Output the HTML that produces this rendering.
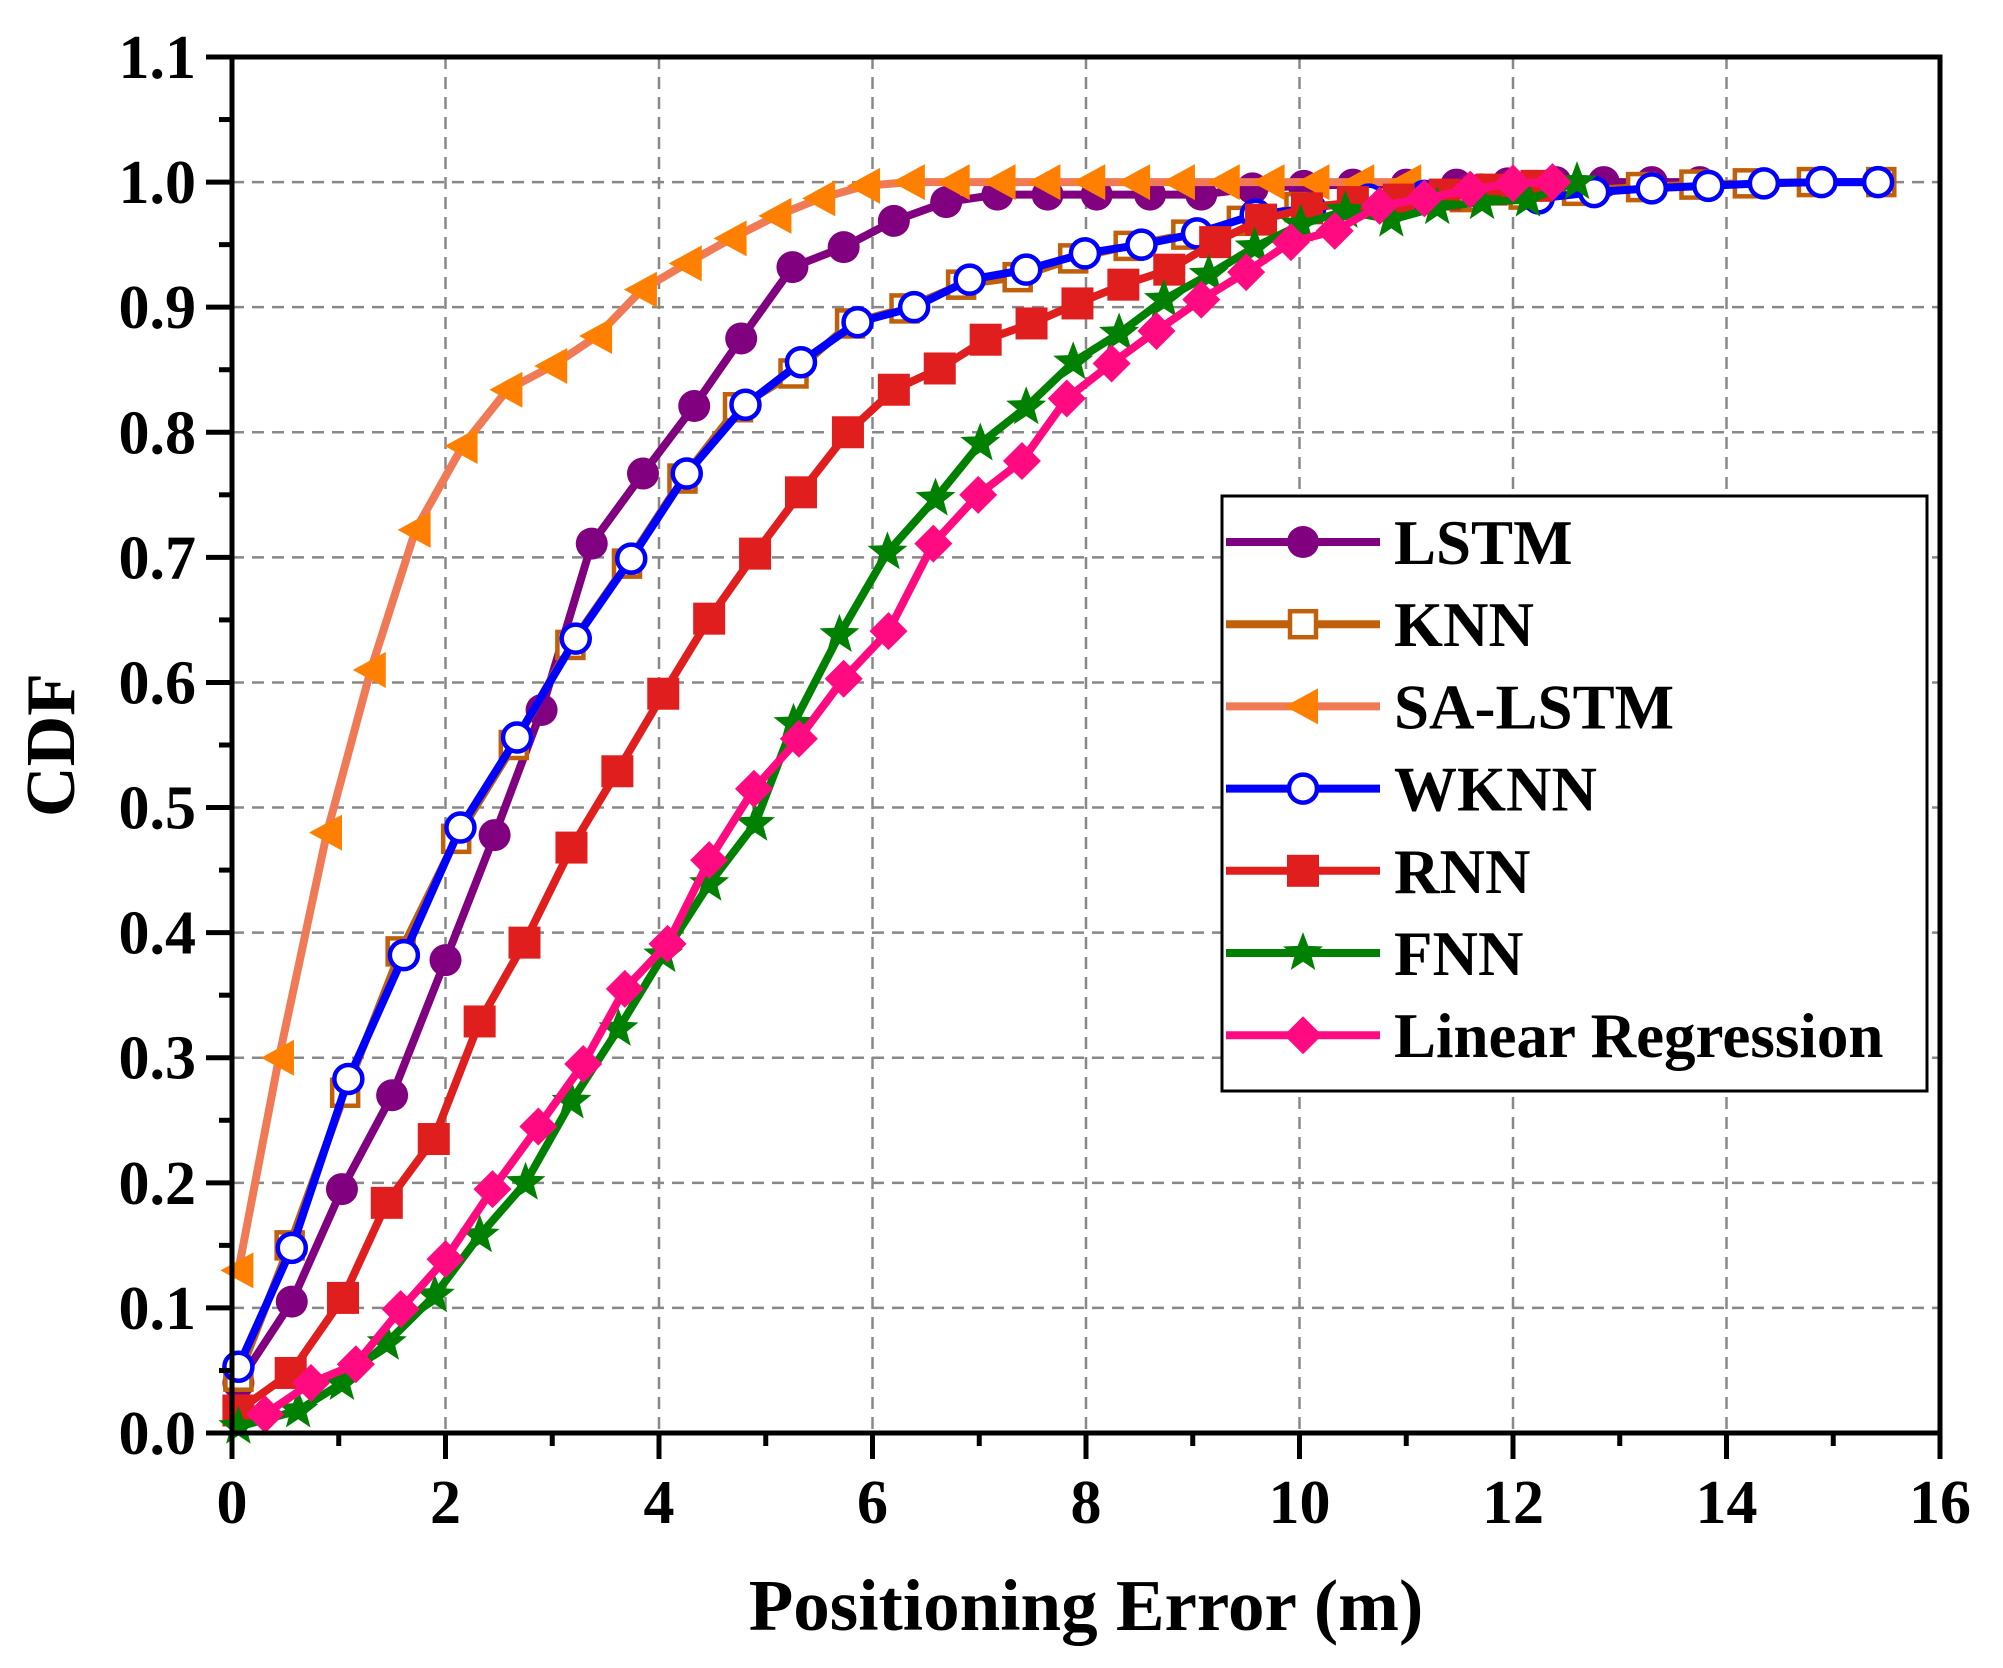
<!DOCTYPE html>
<html><head><meta charset="utf-8"><style>
html,body{margin:0;padding:0;background:#fff;}
svg{display:block;font-family:"Liberation Serif",serif;font-weight:bold;}
</style></head><body>
<svg id="chart" width="2003" height="1668" viewBox="0 0 2003 1668" xmlns="http://www.w3.org/2000/svg">
<g id="grid"></g>
<g id="series"></g>
<g id="axes"></g>
<text x="1086" y="1630" font-size="73" text-anchor="middle">Positioning Error (m)</text>
<text transform="translate(74,745) rotate(-90)" font-size="70" text-anchor="middle">CDF</text>
<g id="legend"></g>
</svg>
<script>
const NS='http://www.w3.org/2000/svg';
const xTicks=[0,2,4,6,8,10,12,14,16];
const yTicks=[0.0,0.1,0.2,0.3,0.4,0.5,0.6,0.7,0.8,0.9,1.0,1.1];
const names=['LSTM','KNN','SA-LSTM','WKNN','RNN','FNN','Linear Regression'];

const lstmX=[0.06,0.56,1.03,1.5,2.0,2.46,2.9,3.37,3.85,4.33,4.77,5.25,5.73,6.2,6.69,7.17,7.64,8.1,8.6,9.08,9.56,10.04,10.5,11.0,11.47,11.95,12.4,12.85,13.3,13.75];
const lstmY=[0.04,0.105,0.195,0.27,0.378,0.478,0.578,0.711,0.767,0.821,0.875,0.932,0.948,0.969,0.984,0.99,0.99,0.99,0.99,0.99,0.995,0.997,0.998,0.998,0.998,0.999,1.0,1.0,1.0,1.0];
const knnX=[0.06,0.54,1.06,1.58,2.1,2.64,3.17,3.7,4.22,4.74,5.26,5.79,6.3,6.83,7.36,7.88,8.4,8.94,9.46,10.0,10.5,11.0,11.55,12.1,12.6,13.2,13.7,14.2,14.8,15.45];
const knnY=[0.045,0.15,0.272,0.385,0.475,0.55,0.63,0.695,0.763,0.82,0.847,0.887,0.899,0.918,0.924,0.939,0.949,0.958,0.969,0.98,0.983,0.986,0.988,0.99,0.993,0.996,0.998,0.999,1.0,1.0];
const saX=[0.06,0.44,0.89,1.3,1.72,2.16,2.58,3.0,3.42,3.84,4.26,4.68,5.1,5.51,5.93,6.35,6.77,7.2,7.62,8.04,8.46,8.88,9.3,9.72,10.14,10.56,11.0];
const saY=[0.13,0.3,0.48,0.61,0.722,0.789,0.834,0.853,0.877,0.914,0.935,0.955,0.973,0.987,0.997,1.0,1.0,1.0,1.0,1.0,1.0,1.0,1.0,1.0,1.0,1.0,1.0];
const wknnX=[0.06,0.56,1.09,1.61,2.14,2.67,3.22,3.74,4.26,4.81,5.33,5.86,6.39,6.91,7.44,7.99,8.52,9.04,9.59,10.1,10.65,11.17,11.7,12.24,12.76,13.3,13.83,14.35,14.89,15.42];
const wknnY=[0.053,0.148,0.283,0.382,0.484,0.556,0.635,0.699,0.767,0.822,0.856,0.888,0.9,0.922,0.93,0.943,0.95,0.959,0.974,0.979,0.986,0.989,0.994,0.987,0.992,0.995,0.997,0.999,1.0,1.0];
const rnnX=[0.06,0.55,1.04,1.45,1.89,2.32,2.74,3.18,3.61,4.04,4.47,4.9,5.33,5.77,6.2,6.63,7.06,7.49,7.92,8.35,8.78,9.21,9.64,10.07,10.5,10.93,11.36,11.8,12.22];
const rnnY=[0.018,0.048,0.108,0.184,0.235,0.329,0.392,0.468,0.529,0.591,0.651,0.703,0.752,0.8,0.834,0.851,0.874,0.887,0.903,0.918,0.93,0.952,0.97,0.979,0.984,0.986,0.99,0.994,0.997];
const fnnX=[0.06,0.62,1.03,1.45,1.9,2.32,2.75,3.18,3.62,4.04,4.47,4.9,5.26,5.69,6.14,6.59,7.01,7.44,7.88,8.31,8.73,9.15,9.58,10.01,10.43,10.86,11.29,11.71,12.14,12.6];
const fnnY=[0.005,0.018,0.04,0.072,0.11,0.158,0.2,0.265,0.323,0.382,0.439,0.487,0.567,0.638,0.704,0.747,0.791,0.82,0.856,0.879,0.906,0.926,0.948,0.966,0.977,0.97,0.98,0.984,0.986,1.0];
const lrX=[0.31,0.74,1.16,1.58,2.0,2.44,2.87,3.29,3.68,4.08,4.47,4.89,5.31,5.73,6.15,6.57,6.99,7.4,7.82,8.24,8.66,9.08,9.5,9.92,10.33,10.75,11.17,11.6,12.0,12.37];
const lrY=[0.015,0.04,0.055,0.099,0.139,0.195,0.245,0.295,0.355,0.391,0.458,0.515,0.555,0.603,0.641,0.711,0.75,0.777,0.827,0.855,0.881,0.906,0.928,0.952,0.961,0.981,0.987,0.994,0.999,1.0];

const L=232,R=1940,T=57,B=1433;
const xMax=16,yMax=1.1;
function sx(v){return L+v/xMax*(R-L);}
function sy(v){return B-v/yMax*(B-T);}
function mk(tag,attrs,parent){const e=document.createElementNS(NS,tag);for(const k in attrs)e.setAttribute(k,attrs[k]);parent.appendChild(e);return e;}

const grid=document.getElementById('grid'),axes=document.getElementById('axes'),ser=document.getElementById('series'),leg=document.getElementById('legend');
xTicks.forEach(t=>{if(t>0&&t<xMax){const g=mk('line',{x1:sx(t),x2:sx(t),y1:T,y2:B,stroke:'#888','stroke-width':2.5,'stroke-dasharray':'12 8'},grid);

}});
yTicks.forEach(t=>{if(t>0&&t<yMax-1e-9){const g=mk('line',{x1:L,x2:R,y1:sy(t),y2:sy(t),stroke:'#888','stroke-width':2.5,'stroke-dasharray':'12 8'},grid);

}});

function star(cx,cy,r){let p=[];for(let i=0;i<10;i++){const a=-Math.PI/2+i*Math.PI/5;const rr=i%2?r*0.42:r;p.push((cx+rr*Math.cos(a)).toFixed(1)+','+(cy+rr*Math.sin(a)).toFixed(1));}return p.join(' ');}
function marker(type,cx,cy,c,parent){
  let e;
  if(type==='circle')e=mk('circle',{cx,cy,r:16,fill:c},parent);
  else if(type==='ocircle')e=mk('circle',{cx,cy,r:14,fill:'#fff',stroke:c,'stroke-width':4.5},parent);
  else if(type==='osquare')e=mk('rect',{x:cx-13,y:cy-13,width:26,height:26,fill:'#fff',stroke:c,'stroke-width':4.5},parent);
  else if(type==='square')e=mk('rect',{x:cx-16,y:cy-16,width:32,height:32,fill:c},parent);
  else if(type==='tri')e=mk('polygon',{points:`${cx-18},${cy} ${cx+15},${cy-18} ${cx+15},${cy+18}`,fill:c},parent);
  else if(type==='star')e=mk('polygon',{points:star(cx,cy,21),fill:c},parent);
  else if(type==='diamond')e=mk('polygon',{points:`${cx},${cy-19} ${cx+19},${cy} ${cx},${cy+19} ${cx-19},${cy}`,fill:c},parent);
  
  
}
const S=[
 {name:names[0],x:lstmX,y:lstmY,line:'#800080',mc:'#800080',m:'circle'},
 {name:names[1],x:knnX,y:knnY,line:'#C0600A',mc:'#C0600A',m:'osquare'},
 {name:names[2],x:saX,y:saY,line:'#F07A55',mc:'#FF8000',m:'tri'},
 {name:names[3],x:wknnX,y:wknnY,line:'#0000FF',mc:'#0000FF',m:'ocircle'},
 {name:names[4],x:rnnX,y:rnnY,line:'#E01E1E',mc:'#E01E1E',m:'square'},
 {name:names[5],x:fnnX,y:fnnY,line:'#008000',mc:'#008000',m:'star'},
 {name:names[6],x:lrX,y:lrY,line:'#FF0A80',mc:'#FF0A80',m:'diamond'}
];
S.forEach(s=>{
  const g=mk('g',{},ser);
  
  
  const pts=s.x.map((v,i)=>sx(v).toFixed(1)+','+sy(s.y[i]).toFixed(1)).join(' ');
  const pl=mk('polyline',{points:pts,fill:'none',stroke:s.line,'stroke-width':8,'stroke-linejoin':'round'},g);
  
  
  s.x.forEach((v,i)=>marker(s.m,sx(v),sy(s.y[i]),s.mc,g));
});

const fr=mk('rect',{x:L,y:T,width:R-L,height:B-T,fill:'none',stroke:'#000','stroke-width':5},axes);


xTicks.forEach(t=>{
  const l=mk('line',{x1:sx(t),x2:sx(t),y1:B,y2:B+26,stroke:'#000','stroke-width':5},axes);
  
  
  const tx=mk('text',{x:sx(t),y:B+90,'font-size':62,'text-anchor':'middle'},axes);
  tx.textContent=t;
  
  
  if(t<xMax){const m=mk('line',{x1:sx(t+1),x2:sx(t+1),y1:B,y2:B+13,stroke:'#000','stroke-width':5},axes);
  
  }
});
yTicks.forEach(t=>{
  const l=mk('line',{x1:L-26,x2:L,y1:sy(t),y2:sy(t),stroke:'#000','stroke-width':5},axes);
  
  
  const tx=mk('text',{x:L-36,y:sy(t)+21,'font-size':62,'text-anchor':'end'},axes);
  tx.textContent=t.toFixed(1);
  
  
  if(t<yMax-1e-9){const m=mk('line',{x1:L-13,x2:L,y1:sy(t+0.05),y2:sy(t+0.05),stroke:'#000','stroke-width':5},axes);
  
  }
});

const box=mk('rect',{x:1222,y:496,width:705,height:595,fill:'#fff',stroke:'#000','stroke-width':3},leg);


S.forEach((s,i)=>{
  const y=542+i*82.2;
  const g=mk('g',{},leg);
  
  
  mk('line',{x1:1226,x2:1380,y1:y,y2:y,stroke:s.line,'stroke-width':8},g);
  marker(s.m,1303,y,s.mc,g);
  const tx=mk('text',{x:1394,y:y+22,'font-size':63},g);
  tx.textContent=s.name;
  
  
});
</script>
</body></html>
